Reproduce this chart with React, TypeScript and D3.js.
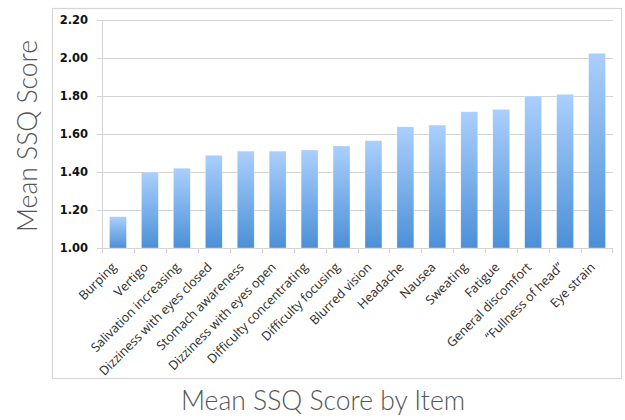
import React from "react";
import * as d3 from "d3";

// Mean SSQ score per symptom item, ascending
const items = [
  "Burping",
  "Vertigo",
  "Salivation increasing",
  "Dizziness with eyes closed",
  "Stomach awareness",
  "Dizziness with eyes open",
  "Difficulty concentrating",
  "Difficulty focusing",
  "Blurred vision",
  "Headache",
  "Nausea",
  "Sweating",
  "Fatigue",
  "General discomfort",
  "\u201CFullness of head\u201D",
  "Eye strain",
];
const scores = [
  1.165, 1.4, 1.42, 1.488, 1.51, 1.51, 1.516, 1.537, 1.565, 1.638, 1.647, 1.717,
  1.73, 1.8, 1.809, 2.025,
];
const yTicks = [1.0, 1.2, 1.4, 1.6, 1.8, 2.0, 2.2];

const W = 625;
const H = 420;
const plot = { left: 102, right: 613, top: 20, bottom: 248 };

export default function App() {
  const x = d3
    .scaleBand<string>()
    .domain(items)
    .range([plot.left, plot.right])
    .paddingInner(0.47)
    .paddingOuter(0.235);
  const band = d3.scaleBand<string>().domain(items).range([plot.left, plot.right]);
  const y = d3.scaleLinear().domain([1.0, 2.2]).range([plot.bottom, plot.top]);

  const grid = "#d4d4d4";

  return (
    <svg
      width={W}
      height={H}
      style={{ position: "absolute", left: 0, top: 0, background: "#fff" }}
    >
      <defs>
        <linearGradient id="barFill" x1="0" y1="0" x2="0" y2="1">
          <stop offset="0%" stopColor="#abcffc" />
          <stop offset="100%" stopColor="#4c90d7" />
        </linearGradient>
      </defs>

      {/* chart frame */}
      <rect x={52.5} y={8.5} width={569} height={370} fill="#fff" stroke="#d6d6d6" strokeWidth={1.2} />

      {/* horizontal grid + y ticks */}
      {yTicks.map((t) => (
        <g key={t}>
          {t > 1.0 && (
            <line
              x1={plot.left}
              x2={plot.right}
              y1={Math.round(y(t)) + 0.5}
              y2={Math.round(y(t)) + 0.5}
              stroke={grid}
            />
          )}
          <line
            x1={plot.left - 5}
            x2={plot.left}
            y1={Math.round(y(t)) + 0.5}
            y2={Math.round(y(t)) + 0.5}
            stroke={grid}
          />
          <text
            x={88}
            y={y(t)}
            dy="0.35em"
            textAnchor="end"
            fontFamily="DejaVu Sans"
            fontWeight="bold"
            fontSize={11.5}
            fill="#111"
          >
            {d3.format(".2f")(t)}
          </text>
        </g>
      ))}

      {/* axes */}
      <line x1={plot.left + 0.5} x2={plot.left + 0.5} y1={plot.top} y2={plot.bottom} stroke={grid} />
      <line x1={plot.left} x2={plot.right} y1={plot.bottom + 0.5} y2={plot.bottom + 0.5} stroke={grid} />
      {items.map((d) => (
        <line
          key={"t" + d}
          x1={Math.round(band(d)!) + 0.5}
          x2={Math.round(band(d)!) + 0.5}
          y1={plot.bottom}
          y2={plot.bottom + 5}
          stroke={grid}
        />
      ))}
      <line
        x1={plot.right - 0.5}
        x2={plot.right - 0.5}
        y1={plot.bottom}
        y2={plot.bottom + 5}
        stroke={grid}
      />

      {/* bars */}
      {items.map((d, i) => (
        <rect
          key={d}
          x={x(d)}
          width={x.bandwidth()}
          y={y(scores[i])}
          height={plot.bottom - y(scores[i])}
          fill="url(#barFill)"
          stroke="#ffffff"
          strokeOpacity={0.5}
          strokeWidth={0.6}
        />
      ))}

      {/* category labels */}
      {items.map((d) => {
        const cx = band(d)! + band.bandwidth() / 2 - 1;
        const cy = plot.bottom + 20;
        return (
          <text
            key={"l" + d}
            transform={`translate(${cx},${cy}) rotate(-45)`}
            textAnchor="end"
            fontFamily="Open Sans"
            fontSize={12.6}
            fill="#2a2a2a"
          >
            {d}
          </text>
        );
      })}

      {/* axis titles */}
      <text
        transform={`translate(37,${(plot.top + plot.bottom) / 2 + 2}) rotate(-90)`}
        textAnchor="middle"
        fontFamily="Lato"
        fontWeight={300}
        fontSize={26.5}
        fill="#555"
      >
        Mean SSQ Score
      </text>
      <text
        x={323}
        y={410}
        textAnchor="middle"
        fontFamily="Lato"
        fontWeight={300}
        fontSize={26.5}
        fill="#555"
      >
        Mean SSQ Score by Item
      </text>
    </svg>
  );
}
